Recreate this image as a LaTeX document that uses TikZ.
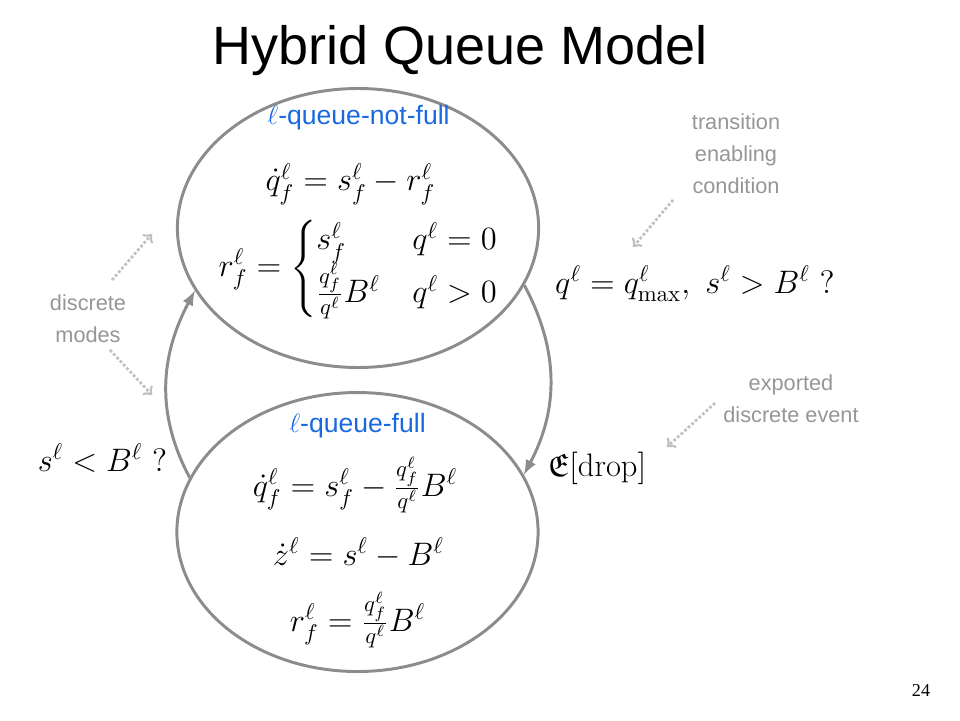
\RequirePackage{fix-cm}
\documentclass[tikz,border=0pt]{standalone}
\usepackage{amsmath}
\usepackage{amssymb}
\usepackage{fontspec}
\newfontfamily\arialfont{Liberation Sans}
\newfontfamily\timesfont{Liberation Serif}
\usetikzlibrary{shapes.geometric}

\definecolor{edgegray}{RGB}{140,140,140}
\definecolor{notegray}{RGB}{150,150,150}
\definecolor{hintgray}{RGB}{192,192,192}
\definecolor{modeblue}{RGB}{25,105,225}

\begin{document}
\begin{tikzpicture}[
    mode/.style={draw=edgegray, line width=1.4pt, ellipse, inner sep=0pt,
                 minimum width=6.02cm, minimum height=4.65cm},
    jump/.style={draw=edgegray, line width=1.4pt, -latex},
    hint/.style={draw=hintgray, line width=1.3pt, densely dotted, ->},
    eqn/.style={inner sep=0pt, font=\fontsize{15.4}{18}\selectfont},
    note/.style={text=notegray, align=center,
                 font=\arialfont\fontsize{10.3}{15.2}\selectfont},
    modename/.style={text=modeblue, anchor=base,
                 font=\arialfont\fontsize{12.6}{15}\selectfont}
  ]
    \useasboundingbox (0, 0) rectangle (16, 12);

    \node[font=\arialfont\fontsize{25.6}{30}\selectfont, anchor=base] (title)
            at (7.675, 10.917) {Hybrid Queue Model};

    % the two discrete modes
    \node[mode] (notfull) at (5.967, 8.2) {};
    \node[mode] (full) at (5.958, 3.133) {};

    \node[modename] (notfullname) at (5.975, 9.917) {$\ell$-queue-not-full};
    \node[modename] (fullname) at (5.958, 4.8) {$\ell$-queue-full};

    \node[eqn] (qnotfull) at (5.84, 8.933) {$\dot{q}^\ell_f = s^\ell_f - r^\ell_f$};
    \node[eqn] (rnotfull) at (5.983, 7.525)
            {$r^\ell_f = \begin{cases} s^\ell_f & q^\ell = 0\\
                                       \frac{q^\ell_f}{q^\ell}B^\ell & q^\ell > 0
                          \end{cases}$};

    \node[eqn] (qfull) at (5.917, 3.917)
            {$\dot{q}^\ell_f = s^\ell_f - \frac{q^\ell_f}{q^\ell}B^\ell$};
    \node[eqn] (zfull) at (5.975, 2.783) {$\dot{z}^\ell = s^\ell - B^\ell$};
    \node[eqn] (rfull) at (5.958, 1.667) {$r^\ell_f = \frac{q^\ell_f}{q^\ell}B^\ell$};

    % transitions
    \draw[jump] (full.162) to[out=118, in=-118] (notfull.201);
    \draw[jump] (notfull.341) to[out=-62, in=62] (full.19);

    \node[eqn] (guardup) at (1.708, 4.367) {$s^\ell < B^\ell\ ?$};
    \node[eqn] (guarddown) at (11.583, 7.267)
            {$q^\ell = q^\ell_{\max},\ s^\ell > B^\ell\ ?$};
    \node[eqn] (event) at (9.95, 4.2) {$\mathfrak{E}[\mathrm{drop}]$};

    % side notes
    \node[note] (modesnote) at (1.467, 6.683) {discrete\\modes};
    \node[note] (guardnote) at (12.267, 9.442) {transition\\enabling\\condition};
    \node[note] (eventnote) at (13.183, 5.35) {exported\\discrete event};

    \coordinate (modesup) at (1.867, 7.333);
    \coordinate (modesupend) at (2.533, 8.1);
    \coordinate (modesdown) at (1.833, 6.167);
    \coordinate (modesdownend) at (2.533, 5.417);
    \coordinate (guardfrom) at (11.217, 8.667);
    \coordinate (guardto) at (10.55, 7.883);
    \coordinate (eventfrom) at (11.917, 5.283);
    \coordinate (eventto) at (11.117, 4.55);

    \draw[hint] (modesup) -- (modesupend);
    \draw[hint] (modesdown) -- (modesdownend);
    \draw[hint] (guardfrom) -- (guardto);
    \draw[hint] (eventfrom) -- (eventto);

    \node[font=\timesfont\fontsize{8.6}{10}\selectfont] (pagenum) at (15.35, 0.5) {24};
  \end{tikzpicture}
\end{document}
